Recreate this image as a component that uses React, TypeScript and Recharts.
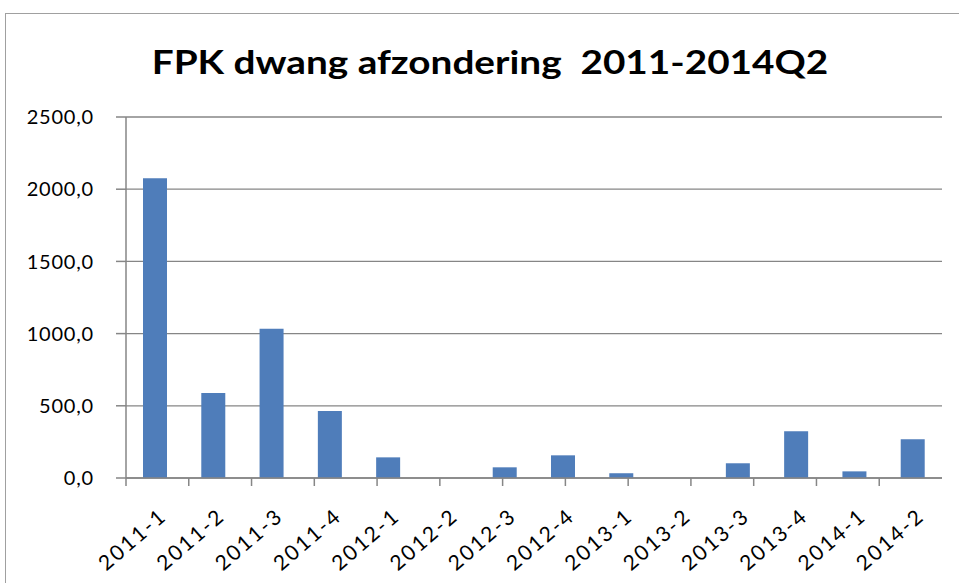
import React from 'react';
import { BarChart, Bar, XAxis, YAxis, CartesianGrid } from 'recharts';

const quarters = [
  '2011-1', '2011-2', '2011-3', '2011-4',
  '2012-1', '2012-2', '2012-3', '2012-4',
  '2013-1', '2013-2', '2013-3', '2013-4',
  '2014-1', '2014-2',
];
const afzondering = [2075, 588, 1033, 464, 143, 0, 74, 157, 33, 0, 102, 323, 46, 268];
const yTicks = [0, 500, 1000, 1500, 2000, 2500];

const data = quarters.map((q, i) => ({ quarter: q, value: afzondering[i] }));
// boundaries between categories, Excel-style tick marks
const boundaries = [...quarters.map((_, i) => i), quarters.length];

const FONT = 'Lato, "Open Sans", sans-serif';
const AXIS = '#868686';

const fmt = (v: number) => v.toFixed(1).replace('.', ',');

function QuarterTick(props: any) {
  const { x, y, payload } = props;
  return (
    <text
      x={0}
      y={0}
      textAnchor="end"
      transform={`translate(${x + 13},${y + 31}) rotate(-41)`}
      fontSize={21}
      fontFamily={FONT}
      letterSpacing={2.2}
      fill="#000"
    >
      {payload.value}
    </text>
  );
}

export default function App() {
  return (
    <div
      style={{
        position: 'absolute',
        left: 0,
        top: 0,
        width: 959,
        height: 583,
        overflow: 'hidden',
        background: '#fff',
        fontFamily: FONT,
      }}
    >
      <div
        style={{
          position: 'absolute',
          left: 5,
          top: 13,
          width: 1100,
          height: 700,
          border: '1px solid #a0a0a0',
        }}
      />
      <div
        style={{
          position: 'absolute',
          left: 0,
          top: 42,
          width: 980,
          textAlign: 'center',
          fontSize: 32,
          fontWeight: 700,
          whiteSpace: 'pre',
          color: '#000',
          transform: 'scaleX(1.21)',
          transformOrigin: 'center',
        }}
      >
        FPK dwang afzondering  2011-2014Q2
      </div>
      <div style={{ position: 'absolute', left: 0, top: 0 }}>
        <BarChart
          width={959}
          height={583}
          data={data}
          margin={{ top: 117, right: 17, left: 10, bottom: 0 }}
        >
          <CartesianGrid vertical={false} stroke={AXIS} strokeWidth={1.3} />
          <XAxis
            type="number"
            domain={[0, quarters.length]}
            ticks={boundaries}
            height={1}
            tickSize={8}
            tick={() => <g />}
            axisLine={{ stroke: AXIS, strokeWidth: 1.5 }}
            tickLine={{ stroke: AXIS, strokeWidth: 1.5 }}
            allowDataOverflow
          />
          <XAxis
            xAxisId="q"
            dataKey="quarter"
            height={104}
            interval={0}
            axisLine={false}
            tickLine={false}
            tick={<QuarterTick />}
          />
          <YAxis
            width={116}
            domain={[0, 2500]}
            ticks={yTicks}
            tickFormatter={fmt}
            tickSize={10}
            tickMargin={22}
            axisLine={{ stroke: AXIS, strokeWidth: 1.5 }}
            tickLine={{ stroke: AXIS, strokeWidth: 1.5 }}
            tick={{ fontSize: 20, fill: '#000', fontFamily: FONT, letterSpacing: 0.8 }}
          />
          <Bar xAxisId="q" dataKey="value" fill="#4f7dba" barSize={24} isAnimationActive={false} />
        </BarChart>
      </div>
    </div>
  );
}
